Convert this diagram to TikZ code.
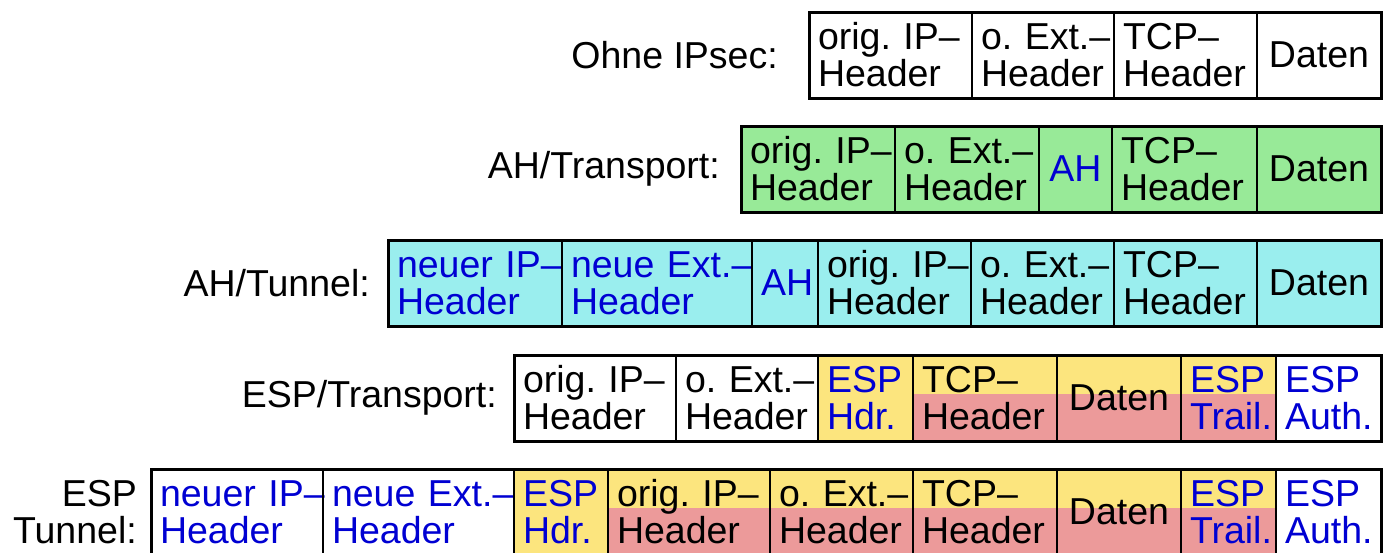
\documentclass[tikz,border=0pt]{standalone}
\usepackage{fontspec}
\setmainfont{Liberation Sans}
\frenchspacing
\definecolor{gr}{HTML}{98EA98}
\definecolor{cy}{HTML}{9AEEEE}
\definecolor{ye}{HTML}{FCE57E}
\definecolor{rd}{HTML}{EC9A9A}
\definecolor{bl}{HTML}{0000D2}
\newcommand\tl[2]{\mbox{#1}\\\mbox{#2}}
\tikzset{
  cell/.style={draw, line width=2.2pt, outer sep=0pt, inner xsep=9pt, inner ysep=0pt,
    minimum height=86pt, anchor=north west, align=left, font=\fontsize{37.5}{37}\selectfont\frenchspacing},
  cw/.code={\pgfmathsetmacro\cwtw{#1-18}\edef\cwtmp{\noexpand\tikzset{minimum width=#1pt,text width=\cwtw pt}}\cwtmp},
  mid/.style={align=center},
  bt/.style={text=bl},
  split/.style={fill=ye, path picture={\fill[rd] (path picture bounding box.south west) rectangle ([yshift=-39pt]path picture bounding box.north east);}},
  lab/.style={anchor=east, align=right, font=\fontsize{37.5}{37}\selectfont, inner sep=0pt},
  rowframe/.style={draw, line width=3pt}
}
\begin{document}
\begin{tikzpicture}
\path[use as bounding box] (0,0) rectangle (1391pt,-552pt);
\clip (0,0) rectangle (1391pt,-552pt);
% Row 1
\node[cell, cw=163] (a1) at (809pt,-12pt) {\tl{orig. IP–}{Header}};
\node[cell, cw=142] (a2) at (a1.north east) {\tl{o. Ext.–}{Header}};
\node[cell, cw=143] (a3) at (a2.north east) {\tl{TCP–}{Header}};
\node[cell, cw=124, mid] (a4) at (a3.north east) {Daten};
\draw[rowframe] (a1.north west) rectangle (a4.south east);
\node[lab] (l1) at (778pt,-55pt) {Ohne IPsec:};
% Row 2
\begin{scope}[every node/.append style={fill=gr}]
\node[cell, cw=154] (b1) at (741pt,-126pt) {\tl{orig. IP–}{Header}};
\node[cell, cw=144] (b2) at (b1.north east) {\tl{o. Ext.–}{Header}};
\node[cell, cw=73, mid, bt] (b3) at (b2.north east) {AH};
\node[cell, cw=145] (b4) at (b3.north east) {\tl{TCP–}{Header}};
\node[cell, cw=124, mid] (b5) at (b4.north east) {Daten};
\end{scope}
\draw[rowframe] (b1.north west) rectangle (b5.south east);
\node[lab] (l2) at (720pt,-169pt) {AH/Transport:};
% Row 3
\begin{scope}[every node/.append style={fill=cy}]
\node[cell, cw=174, bt] (c1) at (388pt,-240pt) {\tl{neuer IP–}{Header}};
\node[cell, cw=190, bt] (c2) at (c1.north east) {\tl{neue Ext.–}{Header}};
\node[cell, cw=66, mid, bt] (c3) at (c2.north east) {AH};
\node[cell, cw=153] (c4) at (c3.north east) {\tl{orig. IP–}{Header}};
\node[cell, cw=143] (c5) at (c4.north east) {\tl{o. Ext.–}{Header}};
\node[cell, cw=143] (c6) at (c5.north east) {\tl{TCP–}{Header}};
\node[cell, cw=124, mid] (c7) at (c6.north east) {Daten};
\end{scope}
\draw[rowframe] (c1.north west) rectangle (c7.south east);
\node[lab] (l3) at (370pt,-283pt) {AH/Tunnel:};
% Row 4
\node[cell, cw=162] (d1) at (514pt,-355pt) {\tl{orig. IP–}{Header}};
\node[cell, cw=142] (d2) at (d1.north east) {\tl{o. Ext.–}{Header}};
\node[cell, cw=95, fill=ye, bt] (d3) at (d2.north east) {\tl{ESP}{Hdr.}};
\node[cell, cw=144, split] (d4) at (d3.north east) {\tl{TCP–}{Header}};
\node[cell, cw=124, split, mid] (d5) at (d4.north east) {Daten};
\node[cell, cw=95, split, bt] (d6) at (d5.north east) {\tl{ESP}{Trail.}};
\node[cell, cw=105, bt] (d7) at (d6.north east) {\tl{ESP}{Auth.}};
\draw[rowframe] (d1.north west) rectangle (d7.south east);
\node[lab] (l4) at (497pt,-398pt) {ESP/Transport:};
% Row 5
\node[cell, cw=172, bt] (e1) at (151pt,-469pt) {\tl{neuer IP–}{Header}};
\node[cell, cw=191, bt] (e2) at (e1.north east) {\tl{neue Ext.–}{Header}};
\node[cell, cw=94, fill=ye, bt] (e3) at (e2.north east) {\tl{ESP}{Hdr.}};
\node[cell, cw=162, split] (e4) at (e3.north east) {\tl{orig. IP–}{Header}};
\node[cell, cw=143, split] (e5) at (e4.north east) {\tl{o. Ext.–}{Header}};
\node[cell, cw=144, split] (e6) at (e5.north east) {\tl{TCP–}{Header}};
\node[cell, cw=124, split, mid] (e7) at (e6.north east) {Daten};
\node[cell, cw=95, split, bt] (e8) at (e7.north east) {\tl{ESP}{Trail.}};
\node[cell, cw=105, bt] (e9) at (e8.north east) {\tl{ESP}{Auth.}};
\draw[rowframe] (e1.north west) rectangle (e9.south east);
\node[lab] (l5) at (137pt,-512pt) {ESP\\Tunnel:};
\end{tikzpicture}
\end{document}
